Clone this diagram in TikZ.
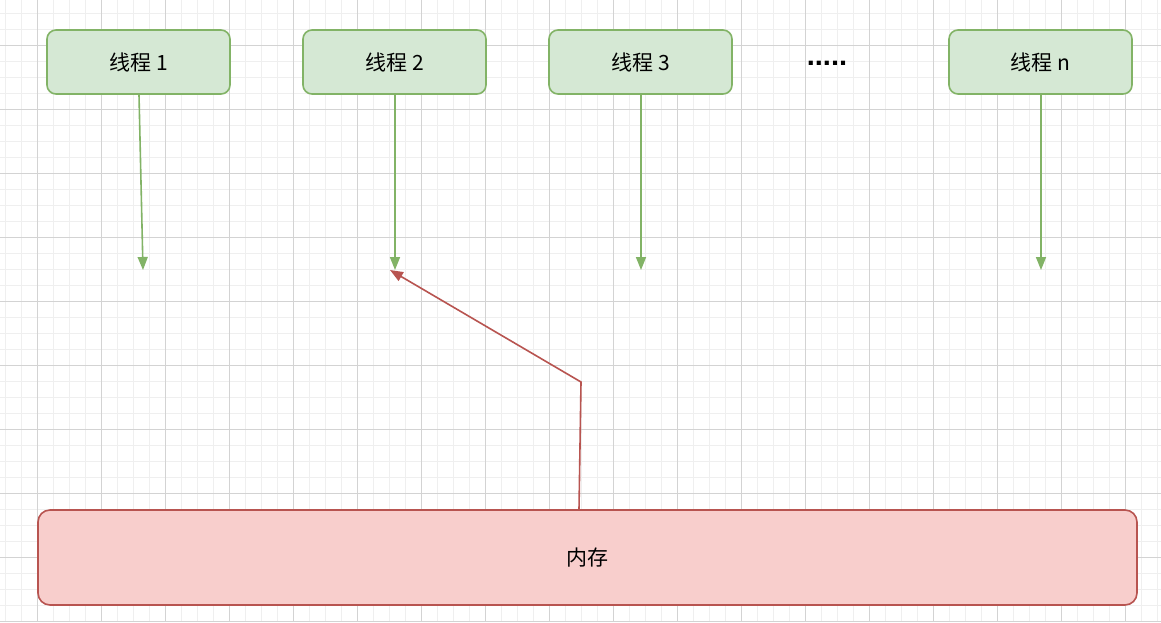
\documentclass[tikz,border=0pt]{standalone}
\usepackage{fontspec}
\setmainfont{Noto Sans CJK SC}
\newfontfamily\latinfont{Liberation Sans}
\usetikzlibrary{arrows.meta}
\definecolor{gfill}{HTML}{D5E8D4}
\definecolor{gline}{HTML}{82B366}
\definecolor{rfill}{HTML}{F8CECC}
\definecolor{rline}{HTML}{B85450}
\definecolor{gridminor}{HTML}{EFEFEF}
\definecolor{gridmajor}{HTML}{D3D3D3}
\tikzset{
  thread/.style={draw=gline, fill=gfill, line width=1.6pt, rounded corners=9pt, minimum width=183pt, minimum height=64pt, inner sep=0pt, font=\fontsize{21}{24}\selectfont},
  mem/.style={draw=rline, fill=rfill, line width=1.6pt, rounded corners=12pt, minimum width=1099pt, minimum height=95pt, inner sep=0pt, font=\fontsize{21}{24}\selectfont},
  garrow/.style={draw=gline, line width=1.6pt, -{Triangle[width=10pt,length=13pt,fill=gline]}},
  rarrow/.style={draw=rline, line width=1.6pt, -{Triangle[width=10pt,length=13pt,fill=rline]}},
}
\begin{document}
\begin{tikzpicture}[x=1pt,y=-1pt]
\useasboundingbox (0,0) rectangle (1161,622);
\fill[white] (0,0) rectangle (1161,622);
% minor grid
\foreach \x in {5,21,...,1161} \draw[gridminor, line width=1pt] (\x,0) -- (\x,622);
\foreach \y in {13,29,...,622} \draw[gridminor, line width=1pt] (0,\y) -- (1161,\y);
% major grid
\foreach \x in {37,101,...,1161} \draw[gridmajor, line width=1pt] (\x,0) -- (\x,622);
\foreach \y in {45,109,...,622} \draw[gridmajor, line width=1pt] (0,\y) -- (1161,\y);

\node[thread] (t1) at (138.5,62) {线程 1};
\node[thread] (t2) at (394.5,62) {线程 2};
\node[thread] (t3) at (640.5,62) {线程 3};
\node[thread] (tn) at (1040.5,62) {线程 n};
\node[font=\latinfont\bfseries\fontsize{29}{30}\selectfont, inner sep=0pt] (dots) at (827,63) {.....};
\node[mem] (m) at (587.5,557.5) {内存};

\coordinate (e1) at (143,270);
\coordinate (e2) at (395,270);
\coordinate (e3) at (641,270);
\coordinate (en) at (1041,270);
\coordinate (bend) at (581,382);

\draw[garrow] (t1.south -| 139,0) -- (e1);
\draw[garrow] (t2.south -| e2) -- (e2);
\draw[garrow] (t3.south -| e3) -- (e3);
\draw[garrow] (tn.south -| en) -- (en);
\draw[rarrow] (m.north -| 579,0) -- (bend) -- (390,270);
\end{tikzpicture}
\end{document}
